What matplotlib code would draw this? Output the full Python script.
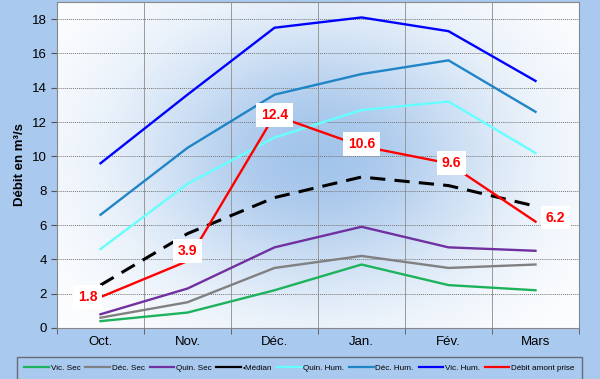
import numpy as np
import matplotlib
matplotlib.use("Agg")
import matplotlib.pyplot as plt

plt.rcParams['font.family'] = ['Liberation Sans', 'DejaVu Sans']

months = ["Oct.", "Nov.", "Déc.", "Jan.", "Fév.", "Mars"]

vic_sec = [0.4, 0.9, 2.2, 3.7, 2.5, 2.2]
dec_sec = [0.6, 1.5, 3.5, 4.2, 3.5, 3.7]
quin_sec = [0.8, 2.3, 4.7, 5.9, 4.7, 4.5]
median = [2.5, 5.5, 7.6, 8.8, 8.3, 7.1]
quin_hum = [4.6, 8.4, 11.1, 12.7, 13.2, 10.2]
dec_hum = [6.6, 10.5, 13.6, 14.8, 15.6, 12.6]
vic_hum = [9.6, 13.6, 17.5, 18.1, 17.3, 14.4]
debit = [1.8, 3.9, 12.4, 10.6, 9.6, 6.2]

series_names = ["Vic. Sec", "Déc. Sec", "Quin. Sec", "•Médian",
                "Quin. Hum.", "Déc. Hum.", "Vic. Hum.", "Débit amont prise"]

bg = "#a9c9ef"
fig = plt.figure(figsize=(6.0, 3.79), dpi=100, facecolor=bg)
ax = fig.add_axes([57/600, 1-328/379, (579-57)/600, (328-2)/379])

x = np.arange(len(months))
ax.set_xlim(-0.5, 5.5)
ax.set_ylim(0, 19)

# soft blue glow behind the data
gx, gy = np.meshgrid(np.linspace(-0.5, 5.5, 300), np.linspace(0, 19, 200))
g = np.exp(-((gx - 2.5) / 2.1) ** 2 - ((gy - 10.0) / 8.0) ** 2)
c_out = np.array([1.0, 1.0, 1.0])
c_in = np.array([0.64, 0.77, 0.92])
img = c_out[None, None, :] * (1 - g[..., None]) + c_in[None, None, :] * g[..., None]
ax.imshow(img, extent=(-0.5, 5.5, 0, 19), origin="lower", aspect="auto", zorder=0)

ax.set_yticks(np.arange(0, 19, 2))
ax.set_xticks(x)
ax.set_xticklabels(months)
ax.set_xticks(np.arange(-0.5, 5.6, 1), minor=True)
ax.tick_params(axis='x', which='major', length=0, labelsize=9.5, pad=6)
ax.tick_params(axis='x', which='minor', length=4, color="#555555")
ax.tick_params(axis='y', labelsize=9.5, length=4, color="#555555")
ax.grid(axis='y', which='major', color="#777777", lw=0.7, ls=(0, (1, 1)), zorder=1)
ax.grid(axis='x', which='minor', color="#999999", lw=0.7, zorder=1)
for s in ax.spines.values():
    s.set_color("#888888")
    s.set_linewidth(0.8)

ax.set_ylabel("Débit en m³/s", fontsize=9.5, fontweight="bold", labelpad=4)

lw = 1.7
styles = [
    (vic_sec, "#1db35c", "-", lw),
    (dec_sec, "#808080", "-", lw),
    (quin_sec, "#7030a0", "-", lw),
    (median, "#000000", (0, (5, 3)), 2.2),
    (quin_hum, "#66ffff", "-", lw),
    (dec_hum, "#1f85c6", "-", lw),
    (vic_hum, "#0000ff", "-", lw),
    (debit, "#ff0000", "-", lw),
]
for (vals, col, ls, w), name in zip(styles, series_names):
    ax.plot(x, vals, color=col, ls=ls, lw=w, zorder=3, label=name)

# value labels on the measured flow
offsets = [(-13, 0), (0, 10), (0, 0), (0, 2), (3, 0), (20, 4)]
for xi, v, off in zip(x, debit, offsets):
    ax.annotate(f"{v:.1f}", (xi, v), xytext=off, textcoords="offset pixels",
                ha="center", va="center", color="#ff0000", fontsize=10,
                fontweight="bold", zorder=5,
                bbox=dict(boxstyle="square,pad=0.35", fc="white", ec="none"))

leg_handles = [plt.Line2D([], [], color=col, lw=1.6) for (_, col, _, _) in styles]
leg = fig.legend(leg_handles, series_names, ncol=8, loc="upper left",
                 bbox_to_anchor=(13/600, 1-353/379), fontsize=5.9,
                 handlelength=3.0, handletextpad=0.2, columnspacing=0.6,
                 frameon=True, fancybox=False, borderpad=0.9,
                 facecolor=bg, edgecolor="#555555")
leg.get_frame().set_linewidth(1.0)

fig.savefig("out.png", dpi=100, facecolor=bg)
